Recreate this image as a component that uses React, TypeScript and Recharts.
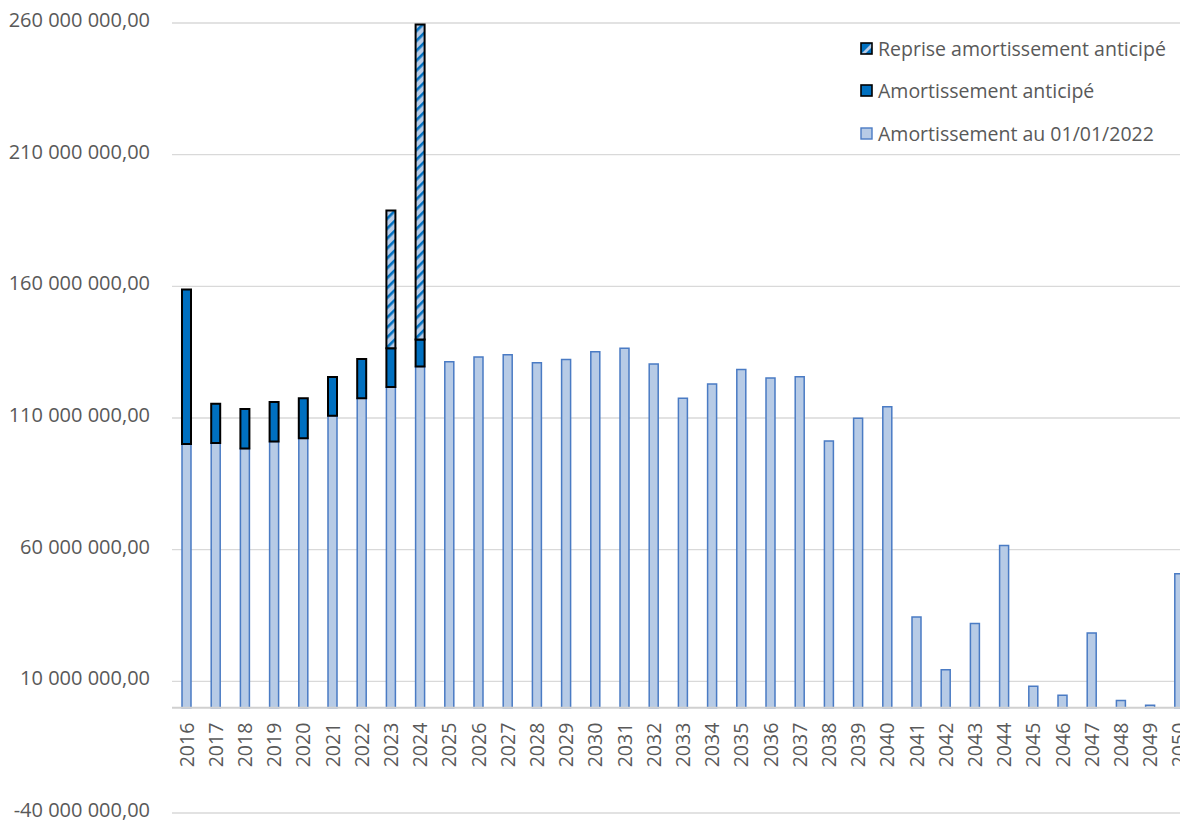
import { BarChart, Bar, XAxis, YAxis, CartesianGrid, Legend, ReferenceLine } from "recharts";

// years on the x axis
const years = [
  "2016", "2017", "2018", "2019", "2020", "2021", "2022", "2023", "2024", "2025",
  "2026", "2027", "2028", "2029", "2030", "2031", "2032", "2033", "2034", "2035",
  "2036", "2037", "2038", "2039", "2040", "2041", "2042", "2043", "2044", "2045",
  "2046", "2047", "2048", "2049", "2050",
];

// values in millions
const amortBase = [
  100.1, 100.5, 98.4, 101.1, 102.3, 110.9, 117.5, 121.8, 129.6, 131.4,
  133.2, 134.0, 131.0, 132.2, 135.2, 136.5, 130.5, 117.5, 122.9, 128.4,
  125.2, 125.7, 101.3, 109.9, 114.3, 34.4, 14.4, 32.0, 61.6, 8.1,
  4.7, 28.4, 2.7, 0.9, 50.9,
];
const amortAnticipe = [58.7, 14.9, 15.0, 15.0, 15.2, 14.7, 14.9, 14.7, 10.2];
const reprise = [0, 0, 0, 0, 0, 0, 0, 52.3, 119.6];

const yTicks = [-40000000, 10000000, 60000000, 110000000, 160000000, 210000000, 260000000];
const Y_MIN = -40000000;
const Y_MAX = 260000000;

const data = years.map((year, i) => ({
  year,
  base: amortBase[i] * 1e6,
  anticipe: (amortAnticipe[i] ?? 0) * 1e6,
  reprise: (reprise[i] ?? 0) * 1e6,
}));

const LIGHT = "#B7CBE6";
const LIGHT_STROKE = "#4A7BC4";
const DARK = "#0070C0";
const TEXT = "#595959";
const FONT = "'Open Sans', sans-serif";

const TOP = 23;
const PLOT_H = 790;
const ZERO_Y = TOP + (PLOT_H * Y_MAX) / (Y_MAX - Y_MIN);

const fmt = (v: number) => {
  const s = Math.abs(v).toFixed(0).replace(/\B(?=(\d{3})+(?!\d))/g, " ");
  return (v < 0 ? "-" : "") + s + ",00";
};

const YearTick = ({ x, payload }: any) => {
  const ty = ZERO_Y + 15;
  return (
    <text
      x={x}
      y={ty}
      transform={`rotate(-90, ${x}, ${ty})`}
      textAnchor="end"
      dy="0.36em"
      fill={TEXT}
      fontSize={19.5}
      fontFamily={FONT}
    >
      {payload.value}
    </text>
  );
};

const legendItems = [
  { name: "Reprise amortissement anticipé", kind: "hatch" },
  { name: "Amortissement anticipé", kind: "dark" },
  { name: "Amortissement au 01/01/2022", kind: "light" },
];

const LegendIcon = ({ kind }: { kind: string }) => {
  if (kind === "hatch") {
    return (
      <svg width={13} height={13}>
        <rect x={1} y={1} width={11} height={11} fill={LIGHT} />
        <polygon points="1,1 12,1 1,12" fill={DARK} />
        <polygon points="12,5 12,12 5,12" fill={DARK} />
        <rect x={1} y={1} width={11} height={11} fill="none" stroke="#000" strokeWidth={1.6} />
      </svg>
    );
  }
  if (kind === "dark") {
    return (
      <svg width={13} height={13}>
        <rect x={1} y={1} width={11} height={11} fill={DARK} stroke="#000" strokeWidth={1.6} />
      </svg>
    );
  }
  return (
    <svg width={13} height={13}>
      <rect x={1} y={1} width={11} height={11} fill={LIGHT} stroke={LIGHT_STROKE} strokeWidth={1.4} />
    </svg>
  );
};

const renderLegend = () => (
  <div style={{ display: "flex", flexDirection: "column", fontFamily: FONT }}>
    {legendItems.map((item) => (
      <div key={item.name} style={{ height: 42.5, display: "flex", alignItems: "center" }}>
        <LegendIcon kind={item.kind} />
        <span style={{ marginLeft: 5, fontSize: 19.5, color: TEXT, whiteSpace: "nowrap" }}>{item.name}</span>
      </div>
    ))}
  </div>
);

export default function App() {
  return (
    <div
      style={{
        position: "fixed",
        left: 0,
        top: 0,
        width: 1180,
        height: 821,
        overflow: "hidden",
        background: "#fff",
        fontFamily: FONT,
      }}
    >
      <BarChart
        width={1194}
        height={821}
        data={data}
        margin={{ top: TOP, right: 0, bottom: 0, left: 0 }}
        barSize={9}
        style={{ maxWidth: "none" }}
      >
        <defs>
          <pattern id="hatch" patternUnits="userSpaceOnUse" width={7} height={7} patternTransform="rotate(45)">
            <rect width={7} height={7} fill={LIGHT} />
            <rect width={2.6} height={7} fill={DARK} />
          </pattern>
        </defs>
        <CartesianGrid vertical={false} stroke="#d9d9d9" strokeWidth={1.3} />
        <XAxis dataKey="year" height={8} axisLine={false} tickLine={false} interval={0} tick={<YearTick />} />
        <YAxis
          width={172}
          type="number"
          domain={[Y_MIN, Y_MAX]}
          ticks={yTicks}
          interval={0}
          axisLine={false}
          tickLine={false}
          tickSize={0}
          tickMargin={22}
          tickFormatter={fmt}
          tick={{ fill: TEXT, fontSize: 20, fontFamily: FONT, dy: -3 }}
        />
        <ReferenceLine y={0} stroke="#d0d0d0" strokeWidth={2} />
        <Bar dataKey="base" name="Amortissement au 01/01/2022" stackId="a" fill={LIGHT} stroke={LIGHT_STROKE} strokeWidth={1.5} isAnimationActive={false} />
        <Bar dataKey="anticipe" name="Amortissement anticipé" stackId="a" fill={DARK} stroke="#000" strokeWidth={2} isAnimationActive={false} />
        <Bar dataKey="reprise" name="Reprise amortissement anticipé" stackId="a" fill="url(#hatch)" stroke="#000" strokeWidth={2} isAnimationActive={false} />
        <Legend
          layout="vertical"
          align="center"
          verticalAlign="middle"
          wrapperStyle={{ left: 860, top: 27, width: 320 }}
          content={renderLegend}
        />
      </BarChart>
    </div>
  );
}
